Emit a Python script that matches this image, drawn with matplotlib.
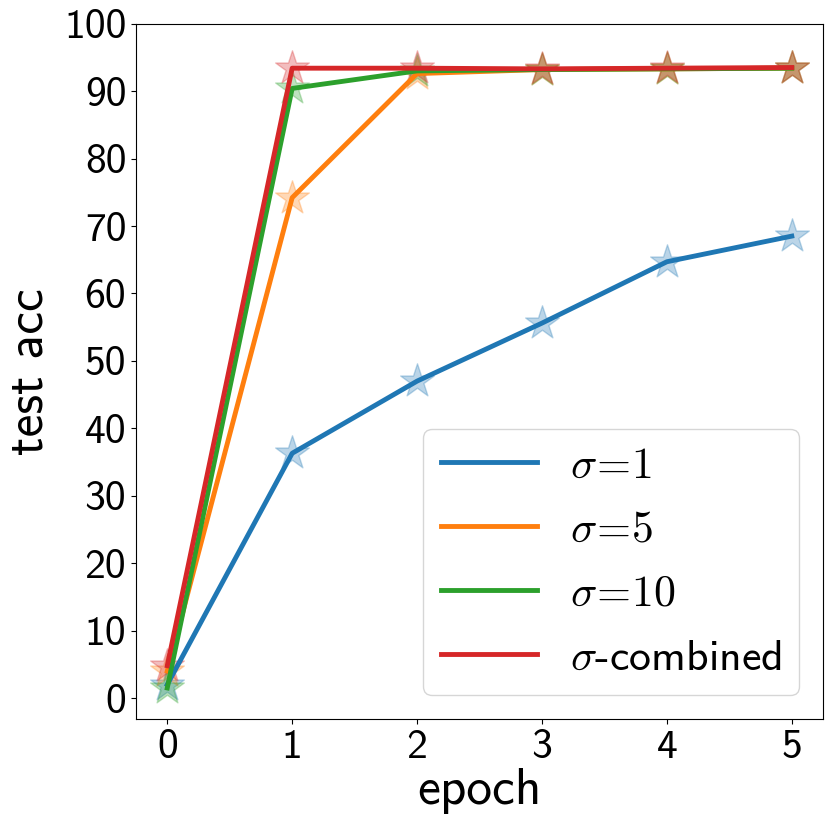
import os
import matplotlib
matplotlib.use('Agg')
import matplotlib.pyplot as plt
import matplotlib.font_manager as font_manager
from matplotlib.ticker import FuncFormatter

epochs = [0, 1, 2, 3, 4, 5]
acc_sigma1 = [2.0, 36.3, 47.0, 55.6, 64.7, 68.5]
acc_sigma5 = [4.0, 74.2, 92.6, 93.2, 93.3, 93.4]
acc_sigma10 = [1.5, 90.4, 93.0, 93.2, 93.3, 93.4]
acc_combined = [4.8, 93.4, 93.4, 93.3, 93.4, 93.5]

series = [
    (acc_sigma1, r'$\sigma\!=\!1$', 'tab:blue'),
    (acc_sigma5, r'$\sigma\!=\!5$', 'tab:orange'),
    (acc_sigma10, r'$\sigma\!=\!10$', 'tab:green'),
    (acc_combined, r'$\sigma$-combined', 'tab:red'),
]

# computer modern sans ships with matplotlib
cmss = os.path.join(matplotlib.get_data_path(), 'fonts', 'ttf', 'cmss10.ttf')
font_manager.fontManager.addfont(cmss)
plt.rcParams['font.family'] = ['cmss10', 'DejaVu Sans']
plt.rcParams['mathtext.fontset'] = 'cm'
plt.rcParams['axes.unicode_minus'] = False

fig = plt.figure(figsize=(8.31, 8.31), dpi=100)
ax = fig.add_axes([0.1637, 0.1348, 0.8267, 0.8367])

for vals, label, color in series:
    ax.scatter(epochs, vals, marker='*', s=650, color=color, alpha=0.3,
               zorder=1)
for vals, label, color in series:
    ax.plot(epochs, vals, color=color, lw=3.5, label=label, zorder=2)

ax.set_xlim(-0.25, 5.25)
ax.set_ylim(-3.1, 100)
ax.set_xticks(epochs)
ax.set_yticks(range(0, 101, 10))
ax.yaxis.set_major_formatter(FuncFormatter(lambda v, p: '%d' % v))
ax.tick_params(labelsize=30)

ax.set_xlabel('epoch', fontsize=37, labelpad=2)
ax.set_ylabel('test acc', fontsize=37, labelpad=8)

ax.legend(loc='lower right', fontsize=31.5, handlelength=2.2,
          handletextpad=0.75, labelspacing=0.58, borderaxespad=0.55)

plt.savefig('out.png')
plt.close()
